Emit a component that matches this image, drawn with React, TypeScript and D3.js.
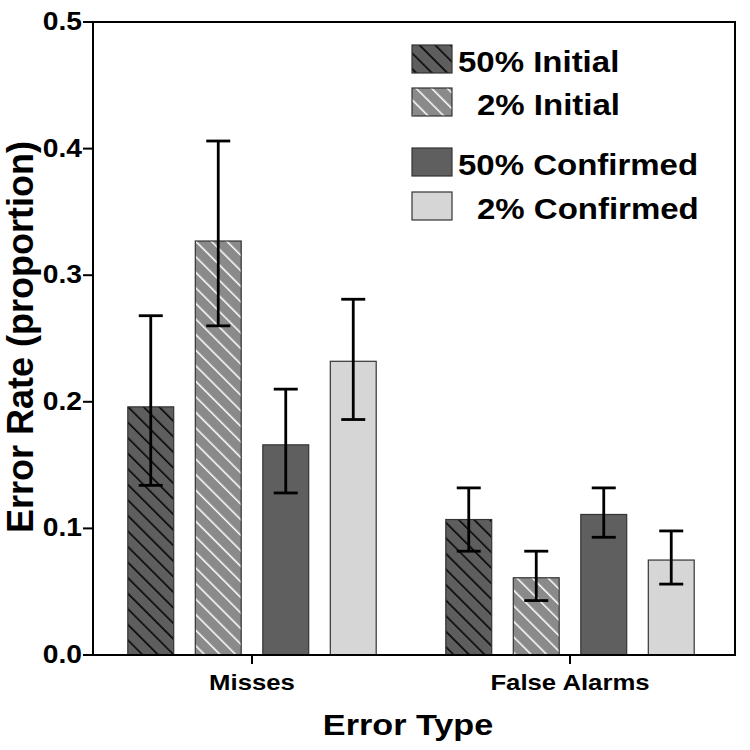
import React from "react";
import * as d3 from "d3";

const categories = ["Misses", "False Alarms"];
const seriesNames = ["50% Initial", "2% Initial", "50% Confirmed", "2% Confirmed"];
const means = [
  [0.196, 0.327, 0.166, 0.232],
  [0.107, 0.061, 0.111, 0.075],
];
const upper = [
  [0.268, 0.406, 0.210, 0.281],
  [0.132, 0.082, 0.132, 0.098],
];
const lower = [
  [0.134, 0.260, 0.128, 0.186],
  [0.082, 0.043, 0.093, 0.056],
];
const yTicks = [0, 0.1, 0.2, 0.3, 0.4, 0.5];

const W = 750, H = 750;
const left = 93, right = 735, top = 22, bottom = 655;
const FONT = "'Liberation Sans', Arial, sans-serif";

const fills = ["url(#hatchDark)", "url(#hatchLight)", "#5f5f5f", "#d6d6d6"];

function T(props: { x: number; y: number; sx?: number; size: number; anchor?: string; dy?: string; children: React.ReactNode }) {
  const { x, y, sx = 1.13, size, anchor = "start", dy, children } = props;
  return (
    <text transform={`translate(${x},${y}) scale(${sx},1)`} dy={dy} textAnchor={anchor}
      fontFamily={FONT} fontWeight="bold" fontSize={size} fill="#000">
      {children}
    </text>
  );
}

export default function App() {
  const y = d3.scaleLinear().domain([0, 0.5]).range([bottom, top]);
  const x0 = d3.scaleBand<string>().domain(categories).range([93, 729]);
  const x1 = d3.scaleBand<string>().domain(seriesNames).range([0, 270]).paddingInner(0.32).paddingOuter(0.16);
  const groupStart = (c: string) => (x0(c) as number) + x0.bandwidth() / 2 - 135;
  const bw = x1.bandwidth();

  const legendRows = [
    { y: 45, tx: 458 },
    { y: 88, tx: 477 },
    { y: 148, tx: 458 },
    { y: 192, tx: 477 },
  ];

  return (
    <svg width={W} height={H} style={{ display: "block", position: "absolute", left: 0, top: 0 }}>
      <defs>
        <pattern id="hatchDark" patternUnits="userSpaceOnUse" width="11" height="11" patternTransform="rotate(-45)">
          <rect width="11" height="11" fill="#5e5e5e" />
          <line x1="0" y1="0" x2="0" y2="11" stroke="#000" strokeWidth="3" />
        </pattern>
        <pattern id="hatchLight" patternUnits="userSpaceOnUse" width="11" height="11" patternTransform="rotate(-45)">
          <rect width="11" height="11" fill="#8a8a8a" />
          <line x1="0" y1="0" x2="0" y2="11" stroke="#fff" strokeWidth="3" />
        </pattern>
      </defs>
      <rect width={W} height={H} fill="#fff" />

      {categories.map((c, ci) => (
        <g key={c}>
          {seriesNames.map((s, si) => {
            const bx = groupStart(c) + (x1(s) as number);
            const cx = bx + bw / 2;
            return (
              <g key={s}>
                <rect x={bx} y={y(means[ci][si])} width={bw} height={bottom - y(means[ci][si])}
                  fill={fills[si]} stroke="#333" strokeWidth={1.2} />
                <line x1={cx} x2={cx} y1={y(upper[ci][si])} y2={y(lower[ci][si])} stroke="#000" strokeWidth={2.8} />
                <line x1={cx - 12} x2={cx + 12} y1={y(upper[ci][si])} y2={y(upper[ci][si])} stroke="#000" strokeWidth={2.8} />
                <line x1={cx - 12} x2={cx + 12} y1={y(lower[ci][si])} y2={y(lower[ci][si])} stroke="#000" strokeWidth={2.8} />
              </g>
            );
          })}
        </g>
      ))}

      <rect x={left} y={top} width={right - left} height={bottom - top} fill="none" stroke="#000" strokeWidth={2} />

      {yTicks.map((t) => (
        <g key={t}>
          <line x1={left - 10} x2={left} y1={y(t)} y2={y(t)} stroke="#000" strokeWidth={2} />
          <T x={left - 11} y={y(t)} dy="0.32em" anchor="end" size={25}>{t.toFixed(1)}</T>
        </g>
      ))}

      {categories.map((c) => {
        const cx = (x0(c) as number) + x0.bandwidth() / 2;
        return (
          <g key={c}>
            <line x1={cx} x2={cx} y1={bottom} y2={bottom + 9} stroke="#000" strokeWidth={2} />
            <T x={cx} y={690} anchor="middle" size={22} sx={1.17}>{c}</T>
          </g>
        );
      })}

      <T x={408} y={735} anchor="middle" size={30} sx={1.14}>Error Type</T>
      <text transform={`translate(33,337) rotate(-90)`} textAnchor="middle" fontFamily={FONT} fontWeight="bold" fontSize={36}>
        Error Rate (proportion)
      </text>

      {seriesNames.map((s, si) => (
        <g key={s}>
          <rect x={412} y={legendRows[si].y} width={40} height={28} fill={fills[si]} stroke="#333" strokeWidth={1.2} />
          <T x={legendRows[si].tx} y={legendRows[si].y + 27} size={30} sx={1.1}>{s}</T>
        </g>
      ))}
    </svg>
  );
}
